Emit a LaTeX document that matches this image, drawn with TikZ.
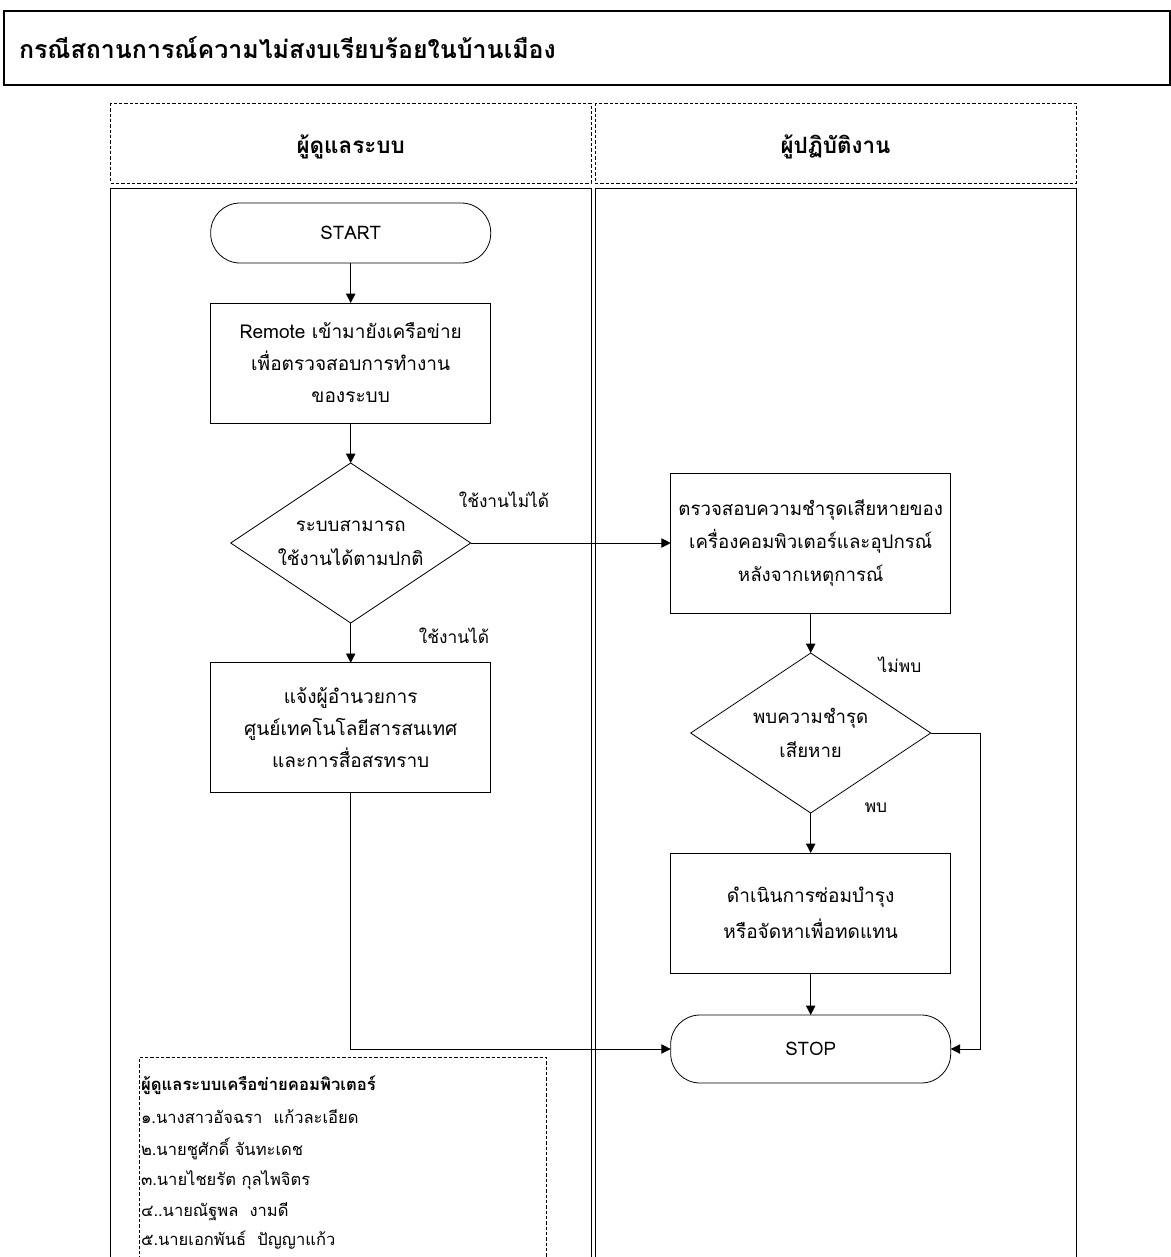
\documentclass[tikz,border=0pt]{standalone}
\usepackage{fontspec}
\setmainfont[Script=Thai]{Loma}
\usetikzlibrary{shapes.geometric,arrows.meta}

\tikzset{
  stepbox/.style={draw=black, line width=0.7pt, minimum width=210pt, align=center,
    font=\fontsize{14.3}{24}\selectfont},
  termbox/.style={draw=black, line width=0.6pt, rounded corners=22pt, minimum width=210pt,
    align=center, font=\fontsize{14}{24}\selectfont},
  askbox/.style={draw=black, line width=0.6pt, diamond, shape aspect=1.5, minimum width=180pt,
    minimum height=120pt, align=center, font=\fontsize{14}{26}\selectfont},
  flowline/.style={draw=black, line width=0.6pt, -{Triangle[length=7pt,width=7pt]}},
  flowlabel/.style={font=\fontsize{13}{16}\selectfont},
  listline/.style={anchor=west, font=\fontsize{12.4}{14}\selectfont},
}

\begin{document}
\begin{tikzpicture}[y=0.75pt, x=0.75pt, yscale=-1, inner sep=0pt, outer sep=0pt]
\path[use as bounding box] (0,0) rectangle (1171,1257);
% title
\path[draw=black,line width=1.5pt] (3.5,10.5) rectangle (1170,85);
\path (19,48) node[anchor=west,font=\fontsize{18.7}{22}\selectfont\bfseries] (title)
  {กรณีสถานการณ์ความไม่สงบเรียบร้อยในบ้านเมือง};
% lanes
\path[draw=black,line width=0.6pt,dash pattern=on 2.5pt off 1.5pt]
  (110.5,103) rectangle (591,183);
\path[draw=black,line width=0.6pt,dash pattern=on 2.5pt off 1.5pt]
  (595,103) rectangle (1076,183);
\path[draw=black,line width=0.75pt] (591.5,1265) -- (591.5,188) -- (110.5,188) -- (110.5,1265);
\path[draw=black,line width=0.75pt] (595,1265) -- (595,188) -- (1076,188) -- (1076,1265);
\path (350.7,147) node[font=\fontsize{16.8}{20}\selectfont\bfseries] (laneadmin) {ผู้ดูแลระบบ};
\path (835.5,147) node[font=\fontsize{16.8}{20}\selectfont\bfseries] (laneworker) {ผู้ปฏิบัติงาน};

% flow
\path (350.7,233) node[termbox,minimum height=45pt] (start) {START};
\path (350.7,363) node[stepbox,minimum height=90pt] (remote)
  {Remote เข้ามายังเครือข่าย\\เพื่อตรวจสอบการทำงาน\\ของระบบ};
\path (350.7,543) node[askbox] (canuse) {ระบบสามารถ\\ใช้งานได้ตามปกติ};
\path (350.7,727.5) node[stepbox,minimum height=97pt] (notify)
  {แจ้งผู้อำนวยการ\\ศูนย์เทคโนโลยีสารสนเทศ\\และการสื่อสรทราบ};
\path (810.7,543) node[stepbox,font=\fontsize{14}{25}\selectfont,minimum height=105pt] (inspect)
  {ตรวจสอบความชำรุดเสียหายของ\\เครื่องคอมพิวเตอร์และอุปกรณ์\\หลังจากเหตุการณ์};
\path (810.7,733) node[askbox] (damaged) {พบความชำรุด\\เสียหาย};
\path (810.7,913) node[stepbox,font=\fontsize{14.3}{27}\selectfont,minimum height=90pt] (repair)
  {ดำเนินการซ่อมบำรุง\\หรือจัดหาเพื่อทดแทน};
\path (810.7,1049) node[termbox,minimum height=51pt] (stop) {STOP};

\path (504,500) node[flowlabel] (lblfail) {ใช้งานไม่ได้};
\path (454,636) node[flowlabel] (lblok) {ใช้งานได้};
\path (900,665) node[flowlabel] (lblnone) {ไม่พบ};
\path (876,808) node[flowlabel] (lblfound) {พบ};

\path[flowline] (start) -- (remote);
\path[flowline] (remote) -- (canuse);
\path[flowline] (canuse) -- (notify);
\path[flowline] (canuse) -- (inspect);
\path[flowline] (inspect) -- (damaged);
\path[flowline] (damaged) -- (repair);
\path[flowline] (repair) -- (stop);
\path[flowline] (damaged.east) -- ++(50,0) |- (stop.east);
\path[flowline] (notify.south) |- (stop.west);

% staff list
\path[draw=black,line width=0.6pt,dash pattern=on 2.5pt off 1.5pt]
  (139.5,1265) -- (139.5,1057) -- (546,1057) -- (546,1265);
\path (141,1085) node[listline,font=\fontsize{12.5}{14}\selectfont\bfseries] (staffhead)
  {ผู้ดูแลระบบเครือข่ายคอมพิวเตอร์};
\path (141,1117) node[listline] (staff1) {๑.นางสาวอัจฉรา\ \ แก้วละเอียด};
\path (141,1148.5) node[listline] (staff2) {๒.นายชูศักดิ์ จันทะเดช};
\path (141,1180) node[listline] (staff3) {๓.นายไชยรัต กุลไพจิตร};
\path (141,1211.5) node[listline] (staff4) {๔..นายณัฐพล\ \ งามดี};
\path (141,1240) node[listline] (staff5) {๕.นายเอกพันธ์\ \ ปัญญาแก้ว};

\end{tikzpicture}
\end{document}
